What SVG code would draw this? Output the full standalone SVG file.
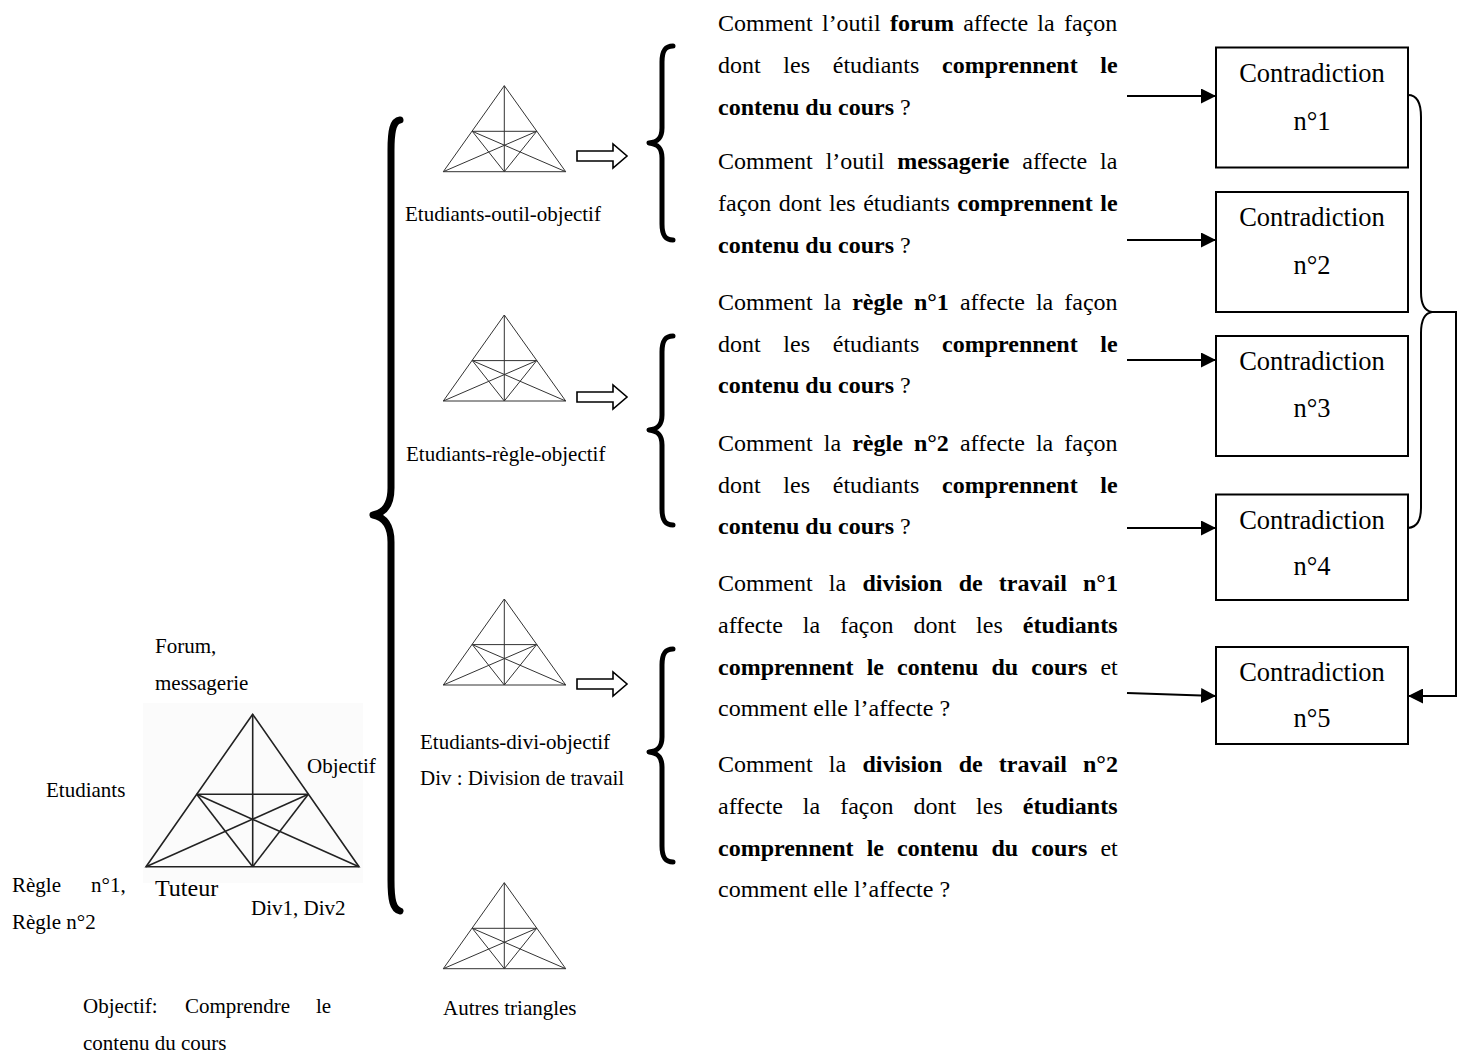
<svg xmlns="http://www.w3.org/2000/svg" xmlns:xlink="http://www.w3.org/1999/xlink" width="1465" height="1055" viewBox="0 0 1465 1055">
<style>
text{font-family:"Liberation Serif","Times New Roman",serif;fill:#000}
.s21{font-size:21px}
.s24{font-size:24px}
.s26{font-size:26.5px}
.b{font-weight:bold}
.tri line,.tri polygon{stroke:#333;stroke-width:1;fill:none}
.bigtri line,.bigtri polygon{stroke:#222;stroke-width:1.6;fill:none}
.box{fill:#fff;stroke:#000;stroke-width:2}
.conn{fill:none;stroke:#000;stroke-width:2}
.brace{fill:none;stroke:#000;stroke-linecap:round;stroke-linejoin:round}
.barrow{fill:#fff;stroke:#000;stroke-width:1.6}
</style>
<defs>
<marker id="ah" markerUnits="userSpaceOnUse" markerWidth="15" markerHeight="15" viewBox="0 0 15 15" refX="15" refY="7.5" orient="auto">
<path d="M0,0 L15,7.5 L0,15 z" fill="#000"/>
</marker>
<g id="smalltri" class="tri">
<polygon points="0,0 -61,86 61.4,86"/>
<line x1="0" y1="0" x2="0" y2="86"/>
<line x1="-32" y1="45.6" x2="32.4" y2="45.6"/>
<line x1="-32" y1="45.6" x2="0" y2="86"/>
<line x1="32.4" y1="45.6" x2="0" y2="86"/>
<line x1="-32" y1="45.6" x2="61.4" y2="86"/>
<line x1="32.4" y1="45.6" x2="-61" y2="86"/>
</g>
<path id="blockarrow" class="barrow" d="M0,-5 L36,-5 L36,-12 L50,0 L36,12 L36,5 L0,5 z"/>
</defs>
<rect width="1465" height="1055" fill="#fff"/>

<!-- Main triangle -->
<g id="main-triangle">
<rect x="143" y="703" width="220" height="180" fill="#fbfbfb"/>
<g class="bigtri">
<polygon points="252.7,714.3 146,866.7 359,866.7"/>
<line x1="252.7" y1="714.3" x2="252.7" y2="866.7"/>
<line x1="196.7" y1="794.3" x2="308.3" y2="794.3"/>
<line x1="196.7" y1="794.3" x2="252.7" y2="866.7"/>
<line x1="308.3" y1="794.3" x2="252.7" y2="866.7"/>
<line x1="196.7" y1="794.3" x2="359" y2="866.7"/>
<line x1="308.3" y1="794.3" x2="146" y2="866.7"/>
</g>
<text class="s21" x="155" y="653">Forum,</text>
<text class="s21" x="155" y="690">messagerie</text>
<text class="s21" x="46" y="797">Etudiants</text>
<text class="s21" x="307" y="773">Objectif</text>
<text class="s24" x="155" y="896">Tuteur</text>
<text class="s21" x="251" y="915">Div1, Div2</text>
<text class="s21" y="892"><tspan x="12">Règle</tspan><tspan x="91">n°1,</tspan></text>
<text class="s21" x="12" y="929">Règle n°2</text>
<text class="s21" y="1013"><tspan x="83">Objectif:</tspan><tspan x="185">Comprendre</tspan><tspan x="316">le</tspan></text>
<text class="s21" x="83" y="1050">contenu du cours</text>
</g>

<!-- Large brace -->
<g id="big-brace">
<path class="brace" stroke-width="7" d="M400,120 C393,121 391,130 391,150 L391,488 C391,505 384,513 373,515 C384,517 391,525 391,542 L391,880 C391,900 393,909 400,911"/>
</g>

<!-- Sub triangles -->
<g id="tri-outil">
<use xlink:href="#smalltri" x="504.3" y="85.7"/>
<text class="s21" x="405" y="221">Etudiants-outil-objectif</text>
<use xlink:href="#blockarrow" x="577" y="156"/>
</g>
<g id="tri-regle">
<use xlink:href="#smalltri" x="504.3" y="315"/>
<text class="s21" x="406" y="461">Etudiants-règle-objectif</text>
<use xlink:href="#blockarrow" x="577" y="397"/>
</g>
<g id="tri-divi">
<use xlink:href="#smalltri" x="504.3" y="599"/>
<text class="s21" x="420" y="749">Etudiants-divi-objectif</text>
<text class="s21" x="420" y="785">Div : Division de travail</text>
<use xlink:href="#blockarrow" x="577" y="684"/>
</g>
<g id="tri-autres">
<use xlink:href="#smalltri" x="504.3" y="882.7"/>
<text class="s21" x="443" y="1015">Autres triangles</text>
</g>

<!-- Medium braces -->
<g id="braces">
<path class="brace" stroke-width="5" d="M673,46 C665,46 662,51 662,62 L662,128 C662,138 658,142 649,143 C658,144 662,148 662,158 L662,224 C662,235 665,240 673,240"/>
<path class="brace" stroke-width="5" d="M673,336 C665,336 662,341 662,352 L662,415 C662,425 658,429 649,430 C658,431 662,435 662,445 L662,509 C662,520 665,525 673,525"/>
<path class="brace" stroke-width="5" d="M673,649 C665,649 662,654 662,665 L662,737 C662,747 658,751 649,752 C658,753 662,757 662,767 L662,846 C662,857 665,862 673,862"/>
</g>

<!-- Question blocks -->
<g id="q-forum" class="s24">
<text x="718" y="31" style="word-spacing:3.3px">Comment l’outil <tspan class="b">forum</tspan> affecte la façon</text>
<text x="718" y="73" style="word-spacing:16.7px">dont les étudiants <tspan class="b">comprennent le</tspan></text>
<text x="718" y="115"><tspan class="b">contenu du cours</tspan> ?</text>
</g>
<g id="q-messagerie" class="s24">
<text x="718" y="169" style="word-spacing:7px">Comment l’outil <tspan class="b">messagerie</tspan> affecte la</text>
<text x="718" y="211" style="word-spacing:1.5px">façon dont les étudiants <tspan class="b">comprennent le</tspan></text>
<text x="718" y="253"><tspan class="b">contenu du cours</tspan> ?</text>
</g>
<g id="q-regle1" class="s24">
<text x="718" y="310" style="word-spacing:5.1px">Comment la <tspan class="b">règle n°1</tspan> affecte la façon</text>
<text x="718" y="352" style="word-spacing:16.7px">dont les étudiants <tspan class="b">comprennent le</tspan></text>
<text x="718" y="393"><tspan class="b">contenu du cours</tspan> ?</text>
</g>
<g id="q-regle2" class="s24">
<text x="718" y="451" style="word-spacing:5.1px">Comment la <tspan class="b">règle n°2</tspan> affecte la façon</text>
<text x="718" y="493" style="word-spacing:16.7px">dont les étudiants <tspan class="b">comprennent le</tspan></text>
<text x="718" y="534"><tspan class="b">contenu du cours</tspan> ?</text>
</g>
<g id="q-div1" class="s24">
<text x="718" y="591" style="word-spacing:10.2px">Comment la <tspan class="b">division de travail n°1</tspan></text>
<text x="718" y="633" style="word-spacing:14px">affecte la façon dont les <tspan class="b">étudiants</tspan></text>
<text x="718" y="675" style="word-spacing:7.1px"><tspan class="b">comprennent le contenu du cours</tspan> et</text>
<text x="718" y="716">comment elle l’affecte ?</text>
</g>
<g id="q-div2" class="s24">
<text x="718" y="772" style="word-spacing:10.2px">Comment la <tspan class="b">division de travail n°2</tspan></text>
<text x="718" y="814" style="word-spacing:14px">affecte la façon dont les <tspan class="b">étudiants</tspan></text>
<text x="718" y="856" style="word-spacing:7.1px"><tspan class="b">comprennent le contenu du cours</tspan> et</text>
<text x="718" y="897">comment elle l’affecte ?</text>
</g>

<!-- Contradiction boxes -->
<g id="c1">
<rect class="box" x="1216" y="47.5" width="192" height="120"/>
<text class="s26" x="1312" y="82" text-anchor="middle">Contradiction</text>
<text class="s26" x="1312" y="130" text-anchor="middle">n°1</text>
</g>
<g id="c2">
<rect class="box" x="1216" y="192" width="192" height="120"/>
<text class="s26" x="1312" y="226" text-anchor="middle">Contradiction</text>
<text class="s26" x="1312" y="274" text-anchor="middle">n°2</text>
</g>
<g id="c3">
<rect class="box" x="1216" y="336" width="192" height="120"/>
<text class="s26" x="1312" y="370" text-anchor="middle">Contradiction</text>
<text class="s26" x="1312" y="417" text-anchor="middle">n°3</text>
</g>
<g id="c4">
<rect class="box" x="1216" y="494.5" width="192" height="105.5"/>
<text class="s26" x="1312" y="529" text-anchor="middle">Contradiction</text>
<text class="s26" x="1312" y="575" text-anchor="middle">n°4</text>
</g>
<g id="c5">
<rect class="box" x="1216" y="647" width="192" height="97"/>
<text class="s26" x="1312" y="681" text-anchor="middle">Contradiction</text>
<text class="s26" x="1312" y="727" text-anchor="middle">n°5</text>
</g>

<!-- Connectors -->
<g id="connectors">
<path class="conn" d="M1127,96 L1216,96" marker-end="url(#ah)"/>
<path class="conn" d="M1127,240 L1216,240" marker-end="url(#ah)"/>
<path class="conn" d="M1127,360 L1216,360" marker-end="url(#ah)"/>
<path class="conn" d="M1127,528 L1216,528" marker-end="url(#ah)"/>
<path class="conn" d="M1127,693 L1216,696" marker-end="url(#ah)"/>
<path class="conn" d="M1408,95 C1417,95 1421,102 1421,117 L1421,292 C1421,305 1425,311 1432,312 C1425,313 1421,319 1421,333 L1421,507 C1421,521 1417,527 1408,528"/>
<path class="conn" d="M1432,312 L1456,312 L1456,696 L1408,696" marker-end="url(#ah)"/>
</g>
</svg>
